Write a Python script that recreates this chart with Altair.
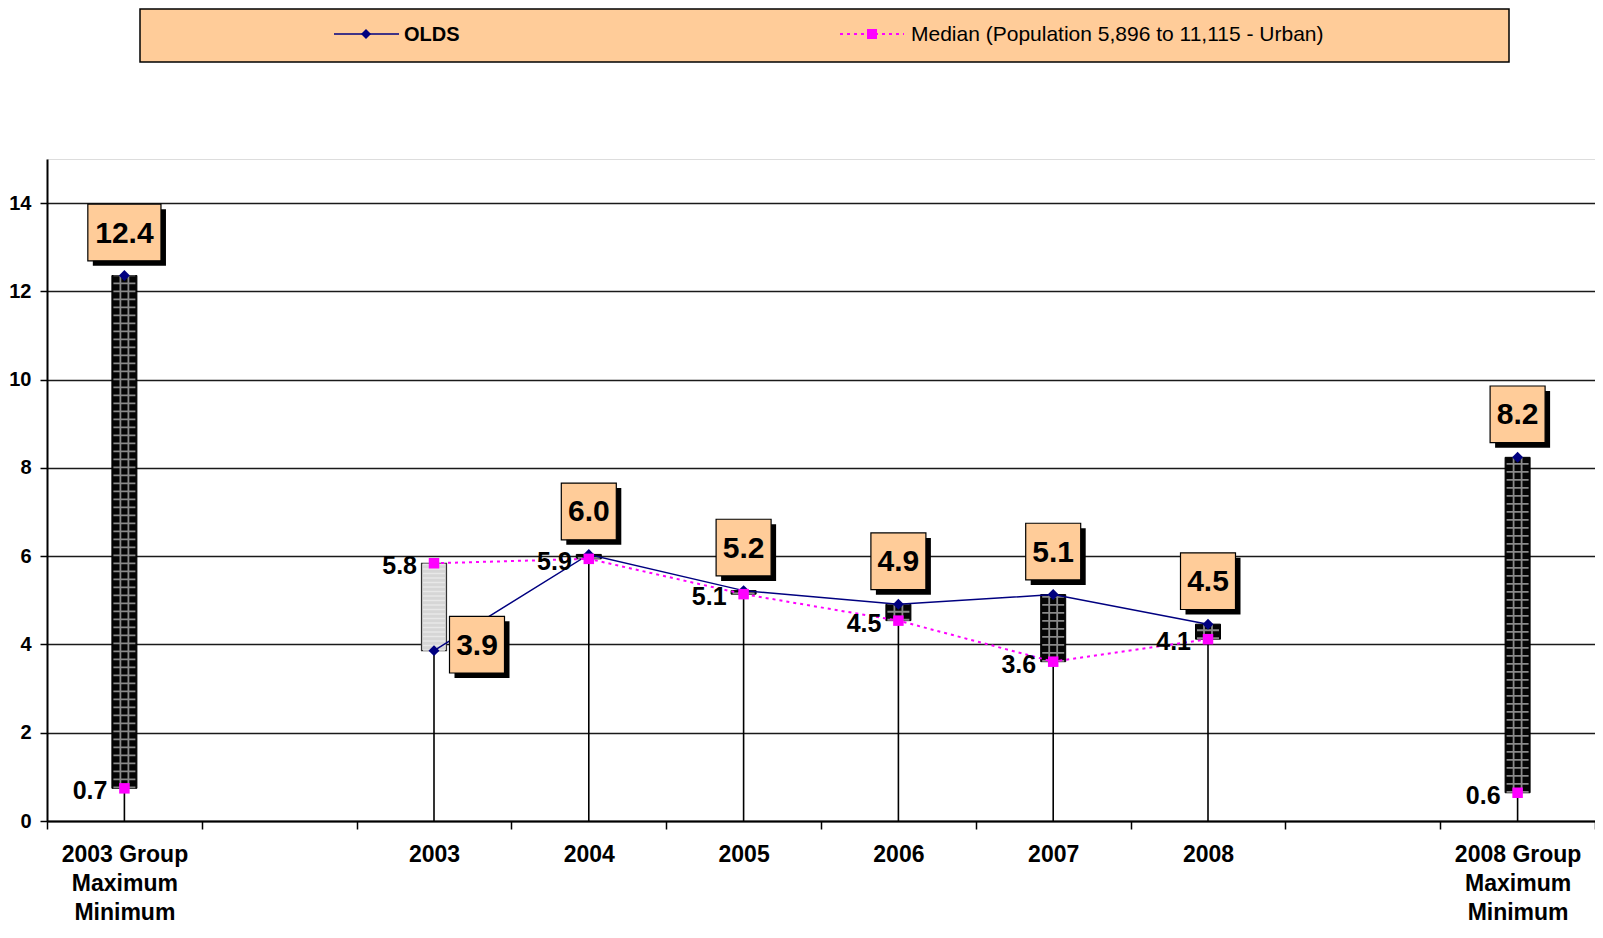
import altair as alt
import pandas as pd

# ---------------- data ----------------
categories = ["2003 Group\nMaximum\nMinimum", "", "2003", "2004", "2005", "2006",
              "2007", "2008", " ", "2008 Group\nMaximum\nMinimum"]
olds = [12.36, None, 3.86, 6.04, 5.22, 4.91, 5.13, 4.46, None, 8.24]
median = [0.74, None, 5.84, 5.94, 5.14, 4.54, 3.61, 4.12, None, 0.64]
series_names = ["OLDS", "Median (Population 5,896 to 11,115 - Urban)"]
y_ticks = [0, 2, 4, 6, 8, 10, 12, 14]

df = pd.DataFrame({"cat": categories, "olds": olds, "median": median})

FONT = "Liberation Sans"
NAVY = "#000080"
MAGENTA = "#FF00FF"
BOX = "#FFCC99"

X = alt.X(
    "cat:N",
    scale=alt.Scale(type="band", domain=categories, paddingInner=0, paddingOuter=0),
    axis=alt.Axis(
        title=None, labelAngle=0, labelFont=FONT, labelFontSize=23, labelFontWeight="bold",
        labelColor="black", labelLineHeight=29, labelPadding=14,
        labelExpr="split(datum.label, '\\n')", tickBand="extent", ticks=True,
        tickSize=8, tickColor="black", tickWidth=1.5, domainColor="black",
        domainWidth=2, grid=False, labelBaseline="top",
    ),
)

base = alt.Chart(df).transform_filter("isValid(datum.olds)").transform_calculate(
    lo="min(datum.olds, datum.median)",
    hi="max(datum.olds, datum.median)",
    zero="0",
)

Yaxis = alt.Axis(
    title=None, values=y_ticks, labelFont=FONT, labelFontSize=20, labelFontWeight="bold",
    labelColor="black", tickSize=7, tickColor="black", tickWidth=1.5, domainColor="black",
    domainWidth=2, grid=True, gridColor="#1a1a1a", gridWidth=1.5, labelPadding=9,
)
yscale = alt.Scale(domain=[0, 15], nice=False, zero=True)

# drop lines
drop = base.mark_rule(color="black", strokeWidth=1.6).encode(
    x=X, y=alt.Y("zero:Q", scale=yscale, axis=Yaxis), y2="hi:Q"
)

up = base.transform_filter("datum.olds >= datum.median")
down = base.transform_filter("datum.olds < datum.median")

up_bar = up.mark_bar(width=25, fill="#050505", stroke="black", strokeWidth=1).encode(
    x=X, y="lo:Q", y2="hi:Q"
)
up_hlines = up.mark_rule(strokeWidth=22, strokeDash=[1.8, 6.2], color="#8a8a8a",
                         strokeCap="butt").encode(x=X, y="lo:Q", y2="hi:Q")
up_v1 = up.mark_rule(strokeWidth=1.8, color="#8a8a8a", xOffset=-4).encode(
    x=X, y="lo:Q", y2="hi:Q")
up_v2 = up.mark_rule(strokeWidth=1.8, color="#8a8a8a", xOffset=4).encode(
    x=X, y="lo:Q", y2="hi:Q")

down_bar = down.mark_bar(width=25, fill="#d6d6d6", stroke="#333333", strokeWidth=1.2).encode(
    x=X, y="lo:Q", y2="hi:Q"
)
down_tex = down.mark_rule(strokeWidth=22, strokeDash=[1.5, 3], color="#e8e8e8",
                          strokeCap="butt").encode(x=X, y="lo:Q", y2="hi:Q")

years = base.transform_filter("indexof(datum.cat, 'Group') < 0")

olds_line = years.mark_line(color=NAVY, strokeWidth=1.5).encode(x=X, y="olds:Q")
med_line = years.mark_line(color=MAGENTA, strokeWidth=2, strokeDash=[3, 4]).encode(
    x=X, y="median:Q")

olds_pts = base.mark_point(shape="diamond", filled=True, color=NAVY, size=120, opacity=1).encode(
    x=X, y="olds:Q")
med_pts = base.mark_point(shape="square", filled=True, color=MAGENTA, size=110, opacity=1).encode(
    x=X, y="median:Q")

# median labels
med_labels = base.mark_text(font=FONT, fontSize=25, fontWeight="bold", align="right",
                            baseline="middle", dx=-17, dy=3, color="black").encode(
    x=X, y="median:Q", text=alt.Text("median:Q", format=".1f"))

# OLDS label boxes
P3 = "M-0.97,-1H0.97V1H-0.97Z"
P4 = "M-1.29,-1H1.29V1H-1.29Z"
boxed = base.transform_calculate(lab="format(datum.olds, '.1f')",
                                 nchar="length(format(datum.olds, '.1f'))")
above = boxed.transform_filter("datum.olds >= datum.median")
right = boxed.transform_filter("datum.olds < datum.median")


def box_layers(src, dx, dy):
    shp = alt.condition("datum.nchar > 3", alt.value(P4), alt.value(P3))
    shadow = src.mark_point(filled=True, color="black", size=3215, opacity=1,
                            xOffset=dx + 5, yOffset=dy + 5).encode(x=X, y="olds:Q", shape=shp)
    box = src.mark_point(filled=True, fill=BOX, stroke="black", strokeWidth=1.2, size=3215,
                         opacity=1, xOffset=dx, yOffset=dy).encode(x=X, y="olds:Q", shape=shp)
    txt = src.mark_text(font=FONT, fontSize=30, fontWeight="bold", color="black",
                        align="center", baseline="middle", dx=dx, dy=dy + 1).encode(
        x=X, y="olds:Q", text="lab:N")
    return [shadow, box, txt]


# legend (manual, in the orange band above the plot)
leg = pd.DataFrame({"name": series_names})
first = "datum.name == 'OLDS'"
second = "datum.name != 'OLDS'"
leg_box = alt.Chart(leg).transform_filter(first).mark_rect(
    fill=BOX, stroke="black", strokeWidth=1.5).encode(
    x=alt.value(93), x2=alt.value(1462), y=alt.value(-150), y2=alt.value(-97))
leg_l1 = alt.Chart(leg).transform_filter(first).mark_rule(
    color=NAVY, strokeWidth=1.5).encode(x=alt.value(287), x2=alt.value(352), y=alt.value(-125))
leg_p1 = alt.Chart(leg).transform_filter(first).mark_point(
    shape="diamond", filled=True, color=NAVY, size=100, opacity=1).encode(
    x=alt.value(319), y=alt.value(-125))
leg_t1 = alt.Chart(leg).transform_filter(first).mark_text(
    font=FONT, fontSize=20, fontWeight="bold", align="left", baseline="middle",
    color="black").encode(x=alt.value(357), y=alt.value(-124), text="name:N")
leg_l2 = alt.Chart(leg).transform_filter(second).mark_rule(
    color=MAGENTA, strokeWidth=2, strokeDash=[3, 4]).encode(
    x=alt.value(793), x2=alt.value(857), y=alt.value(-125))
leg_p2 = alt.Chart(leg).transform_filter(second).mark_point(
    shape="square", filled=True, color=MAGENTA, size=100, opacity=1).encode(
    x=alt.value(825), y=alt.value(-125))
leg_t2 = alt.Chart(leg).transform_filter(second).mark_text(
    font=FONT, fontSize=21, fontWeight="normal", align="left", baseline="middle",
    color="black").encode(x=alt.value(864), y=alt.value(-124), text="name:N")

layers = [drop, up_bar, up_hlines, up_v1, up_v2, down_bar, down_tex, olds_line, med_line,
          olds_pts, med_pts, med_labels]
layers += box_layers(above, 0, -43)
layers += box_layers(right, 43, -6)
layers += [leg_box, leg_l1, leg_p1, leg_t1, leg_l2, leg_p2, leg_t2]

chart = alt.layer(*layers).properties(
    width=1548, height=662,
    padding={"left": 39, "top": 151, "right": 0, "bottom": 103},
    autosize=alt.AutoSizeParams(type="none"),
).configure_view(stroke="#888888", strokeWidth=1.2).configure(background="white")

chart.save("out.html", embed_options={"renderer": "svg", "actions": False})
